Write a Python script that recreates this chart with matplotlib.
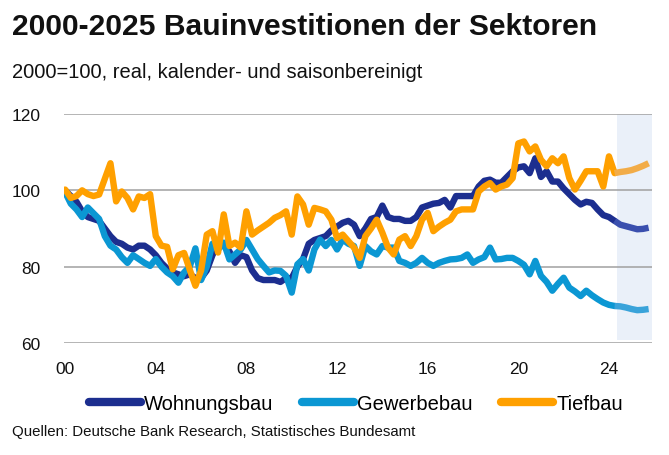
import matplotlib
matplotlib.use("Agg")
import matplotlib.pyplot as plt
from matplotlib.lines import Line2D
import numpy as np

plt.rcParams['font.family'] = ['Liberation Sans', 'DejaVu Sans']

# Quarterly data 2000Q1 .. 2025Q4 (index 2000 = 100)
wohnungsbau = [
    100, 98.5, 97, 94.5, 93, 92.5, 92, 90, 88, 86.5, 86, 85, 84.5, 85.5, 85.5, 84.5,
    83, 81, 79.5, 78.5, 78, 77.5, 78, 77, 77, 79, 83, 86, 85.5, 84, 81, 83,
    82.5, 79, 77, 76.5, 76.5, 76.5, 76, 77, 77, 80, 82, 86, 87, 87.5, 88, 89.5,
    90.5, 91.5, 92, 91, 88, 90, 92.5, 93, 96, 93, 92.5, 92.5, 92, 92, 93, 95.5,
    96, 96.5, 96.7, 97.5, 95.5, 98.5, 98.5, 98.5, 98.5, 101, 102.5, 102.8, 102, 102, 103.5, 105,
    106, 106.3, 104.5, 108.4, 103.5, 105, 102.3, 102.3, 100.5, 99, 97.5, 96.3, 97, 96.7, 95, 93.5,
    93, 92, 91, 90.6, 90.2, 89.8, 89.9, 90.2,
]
gewerbebau = [
    99.5, 96.5, 95, 93, 95.5, 94, 92.5, 88, 85.5, 84.5, 82.5, 81, 83, 82, 81, 80.2,
    82, 80, 78.5, 77.5, 75.8, 78.5, 80, 84.8, 76.5, 80, 86, 84.5, 86.3, 81.9, 83.2, 84.5,
    87, 84.5, 82, 80.2, 78.5, 79, 78.9, 77.6, 73.2, 80.6, 82, 79, 84.5, 87.1, 85.4, 87,
    84.5, 87.1, 86, 85.4, 80.2, 85.4, 84, 83.2, 85.4, 85, 85, 81.5, 81, 80.2, 81, 82.3,
    81, 80.2, 81, 81.5, 81.9, 82, 82.3, 83.2, 81, 81.9, 82.5, 85, 81.9, 82, 82.3, 82.3,
    81.5, 80.5, 78, 81.5, 77.6, 76, 73.7, 75.5, 77.1, 74.5, 73.5, 72.3, 73.7, 72.5, 71.5, 70.6,
    70, 69.7, 69.6, 69.3, 68.9, 68.6, 68.7, 68.9,
]
tiefbau = [
    100.2, 98, 98.5, 100, 99, 98.5, 98.9, 103, 107.1, 97.1, 99.7, 98, 95, 98.4, 98, 99,
    88, 85.5, 85.2, 79.3, 83, 83.6, 79.2, 75, 79, 88.4, 89.3, 83.7, 93.7, 85.4, 86.3, 85,
    94.5, 88.4, 89.5, 90.5, 91.5, 92.8, 93.5, 94.5, 88.4, 98.4, 96.3, 91, 95.4, 95, 94.5, 92.3,
    87.5, 88.4, 86.7, 85, 82.3, 88, 90, 92.3, 88.9, 85, 83.2, 87.1, 88, 85.4, 88, 92.3,
    94.1, 89.3, 90.5, 91.5, 92.3, 94.5, 95, 95, 95, 99.7, 101, 101.9, 100.2, 101, 101.5, 103.2,
    112.3, 112.8, 110.2, 111.5, 108, 106.3, 108.4, 107.1, 108.9, 103.2, 100.2, 102.5, 105, 105, 105, 101,
    108.9, 104.5, 104.8, 105, 105.3, 105.8, 106.4, 107.1,
]
series_names = ["Wohnungsbau", "Gewerbebau", "Tiefbau"]
x_labels = ["00", "04", "08", "12", "16", "20", "24"]
y_ticks = [60, 80, 100, 120]
forecast_start = 97   # index of first forecast quarter

colors = ["#1c2e8f", "#0b97d3", "#ffa000"]
fc_colors = ["#3a4fae", "#3aa3da", "#f2ac48"]

fig = plt.figure(figsize=(6.69, 4.56), dpi=100)
ax = fig.add_axes([64/669, 1-344/456, (652-64)/669, (344-115)/456])

x = np.arange(len(wohnungsbau))
ax.axvspan(forecast_start + 0.4, 103.6, ymin=0.015, ymax=1.0, color="#eaf0f9", lw=0, zorder=0)

for data, c, fc in zip([wohnungsbau, gewerbebau, tiefbau], colors, fc_colors):
    d = np.array(data)
    ax.plot(x[:forecast_start + 1], d[:forecast_start + 1], color=c, lw=4.6,
            solid_joinstyle='round', solid_capstyle='round', zorder=3)
    ax.plot(x[forecast_start:], d[forecast_start:], color=fc, lw=4.6,
            solid_joinstyle='round', solid_capstyle='butt', zorder=3)

ax.set_xlim(-0.2, 103.6)
ax.set_ylim(60, 120)
ax.set_yticks(y_ticks)
ax.set_xticks([i * 16 for i in range(len(x_labels))])
ax.set_xticklabels(x_labels)
ax.tick_params(axis='both', length=0, labelsize=12.5, colors="#111111")
ax.tick_params(axis='y', pad=17)
ax.tick_params(axis='x', pad=13)
for s in ax.spines.values():
    s.set_visible(False)
ax.grid(axis='y', color="#a0a0a0", lw=1.1, zorder=1)
ax.set_axisbelow(True)

fig.text(12/669, 1-27/456, "2000-2025 Bauinvestitionen der Sektoren", fontsize=21.6,
         fontweight='bold', color="#111111", va='center', ha='left')
fig.text(12/669, 1-72/456, "2000=100, real, kalender- und saisonbereinigt", fontsize=14.5,
         color="#111111", va='center', ha='left')
fig.text(12/669, 1-432/456, "Quellen: Deutsche Bank Research, Statistisches Bundesamt",
         fontsize=10.8, color="#111111", va='center', ha='left')

handles = [Line2D([0], [0], color=c, lw=6, solid_capstyle='round') for c in colors]
fig.legend(handles, series_names, loc='center', bbox_to_anchor=(356/669, 1-405/456),
           ncol=3, frameon=False, fontsize=14.5, handlelength=2.6, handletextpad=0.15,
           columnspacing=1.4, borderaxespad=0, borderpad=0)

fig.savefig("out.png", dpi=100, facecolor="white")
